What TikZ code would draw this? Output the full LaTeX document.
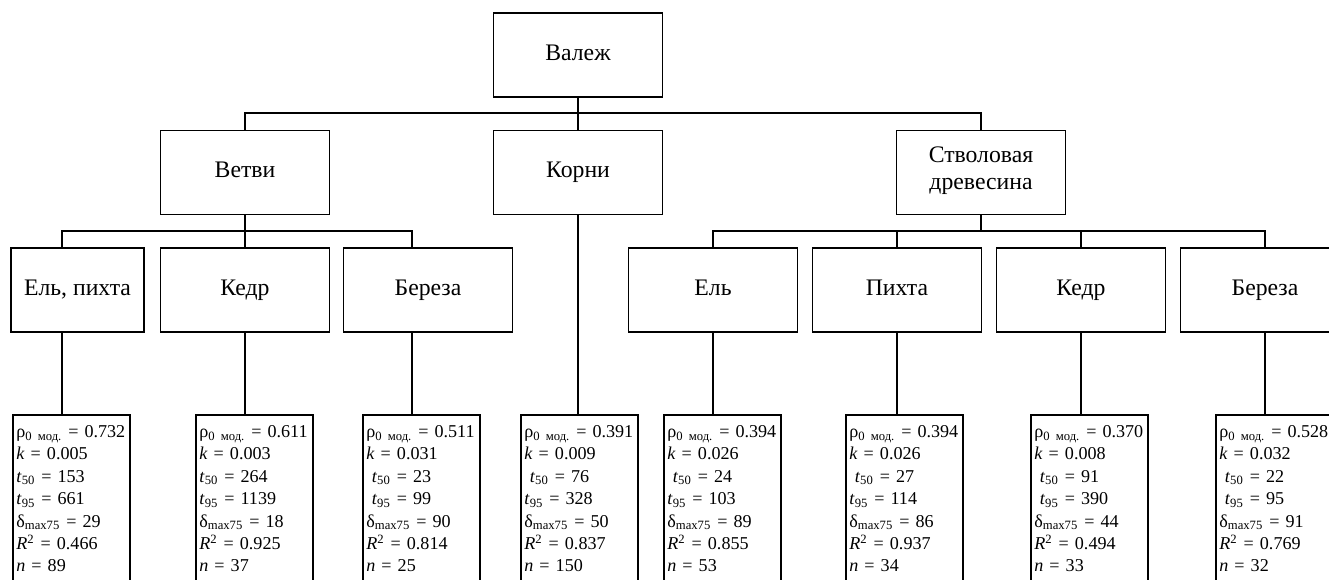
\documentclass[tikz,border=0pt]{standalone}
\usepackage{fontspec}
\setmainfont{Liberation Serif}
\usetikzlibrary{positioning}

\tikzset{
  box/.style={draw,line width=1pt,minimum width=3.38cm,minimum height=1.68cm,
    align=center,inner sep=2pt,font=\fontsize{13.5}{15.5}\selectfont,
    execute at begin node=\strut},
  databox/.style={draw,line width=1pt,anchor=north west,align=left,text width=2.2cm,
    inner xsep=2pt,inner ysep=6pt,font=\fontsize{10.3}{12.75}\selectfont},
  link/.style={line width=1pt}
}

\begin{document}
\begin{tikzpicture}[x=0.02cm,y=-0.02cm]
\useasboundingbox (0,0) rectangle (1329,579);
\clip (0,0) rectangle (1329,579);

% levels 1 and 2
\node[box] (valezh) at (578,55) {Валеж};
\node[box] (vetvi) at (245,172.5) {Ветви};
\node[box] (korni) at (578,172.5) {Корни};
\node[box] (stvol) at (981,172.5) {Стволовая\\древесина};

% level 3
\node[box,minimum width=2.66cm] (vEP) at (77.5,290) {Ель, пихта};
\node[box] (vKedr) at (245,290) {Кедр};
\node[box] (vBer) at (428,290) {Береза};
\node[box] (sEl) at (713,290) {Ель};
\node[box] (sPikh) at (897,290) {Пихта};
\node[box] (sKedr) at (1081,290) {Кедр};
\node[box] (sBer) at (1265,290) {Береза};

% data
\node[databox] (dA) at (12,414) {ρ\textsubscript{0 мод.} = 0.732\\
 \textit{k} = 0.005\\
 \textit{t}\textsubscript{50} = 153\\
 \textit{t}\textsubscript{95} = 661\\
 δ\textsubscript{max75} = 29\\
 \textit{R}\textsuperscript{2} = 0.466\\
 \textit{n} = 89\\ \mbox{}};
\node[databox] (dB) at (195,414) {ρ\textsubscript{0 мод.} = 0.611\\
 \textit{k} = 0.003\\
 \textit{t}\textsubscript{50} = 264\\
 \textit{t}\textsubscript{95} = 1139\\
 δ\textsubscript{max75} = 18\\
 \textit{R}\textsuperscript{2} = 0.925\\
 \textit{n} = 37\\ \mbox{}};
\node[databox] (dC) at (362,414) {ρ\textsubscript{0 мод.} = 0.511\\
 \textit{k} = 0.031\\
 \hspace*{0.3em}\textit{t}\textsubscript{50} = 23\\
 \hspace*{0.3em}\textit{t}\textsubscript{95} = 99\\
 δ\textsubscript{max75} = 90\\
 \textit{R}\textsuperscript{2} = 0.814\\
 \textit{n} = 25\\ \mbox{}};
\node[databox] (dD) at (520,414) {ρ\textsubscript{0 мод.} = 0.391\\
 \textit{k} = 0.009\\
 \hspace*{0.3em}\textit{t}\textsubscript{50} = 76\\
 \textit{t}\textsubscript{95} = 328\\
 δ\textsubscript{max75} = 50\\
 \textit{R}\textsuperscript{2} = 0.837\\
 \textit{n} = 150\\ \mbox{}};
\node[databox] (dE) at (663,414) {ρ\textsubscript{0 мод.} = 0.394\\
 \textit{k} = 0.026\\
 \hspace*{0.3em}\textit{t}\textsubscript{50} = 24\\
 \textit{t}\textsubscript{95} = 103\\
 δ\textsubscript{max75} = 89\\
 \textit{R}\textsuperscript{2} = 0.855\\
 \textit{n} = 53\\ \mbox{}};
\node[databox] (dF) at (845,414) {ρ\textsubscript{0 мод.} = 0.394\\
 \textit{k} = 0.026\\
 \hspace*{0.3em}\textit{t}\textsubscript{50} = 27\\
 \textit{t}\textsubscript{95} = 114\\
 δ\textsubscript{max75} = 86\\
 \textit{R}\textsuperscript{2} = 0.937\\
 \textit{n} = 34\\ \mbox{}};
\node[databox] (dG) at (1030,414) {ρ\textsubscript{0 мод.} = 0.370\\
 \textit{k} = 0.008\\
 \hspace*{0.3em}\textit{t}\textsubscript{50} = 91\\
 \hspace*{0.3em}\textit{t}\textsubscript{95} = 390\\
 δ\textsubscript{max75} = 44\\
 \textit{R}\textsuperscript{2} = 0.494\\
 \textit{n} = 33\\ \mbox{}};
\node[databox] (dH) at (1215,414) {ρ\textsubscript{0 мод.} = 0.528\\
 \textit{k} = 0.032\\
 \hspace*{0.3em}\textit{t}\textsubscript{50} = 22\\
 \hspace*{0.3em}\textit{t}\textsubscript{95} = 95\\
 δ\textsubscript{max75} = 91\\
 \textit{R}\textsuperscript{2} = 0.769\\
 \textit{n} = 32\\ \mbox{}};

% connectors
\coordinate (j1) at (578,113);
\coordinate (j3) at (981,231);
\coordinate (b1) at (62,231);
\coordinate (b3) at (412,231);
\draw[link] (valezh) -- (korni);
\draw[link] (vetvi.north) -- (vetvi.north |- j1) -- (stvol.north |- j1) -- (stvol.north);
\draw[link] (vetvi) -- (vKedr);
\draw[link] (b1 |- vEP.north) -- (b1) -- (b3) -- (b3 |- vBer.north);
\draw[link] (stvol) -- (j3);
\draw[link] (sEl.north) -- (sEl.north |- j3) -- (sBer.north |- j3) -- (sBer.north);
\draw[link] (sPikh) -- (sPikh |- j3);
\draw[link] (sKedr) -- (sKedr |- j3);
\draw[link] (b1 |- vEP.south) -- (b1 |- dA.north);
\draw[link] (vKedr) -- (vKedr |- dB.north);
\draw[link] (b3 |- vBer.south) -- (b3 |- dC.north);
\draw[link] (korni) -- (korni |- dD.north);
\draw[link] (sEl) -- (sEl |- dE.north);
\draw[link] (sPikh) -- (sPikh |- dF.north);
\draw[link] (sKedr) -- (sKedr |- dG.north);
\draw[link] (sBer) -- (sBer |- dH.north);
\end{tikzpicture}
\end{document}
